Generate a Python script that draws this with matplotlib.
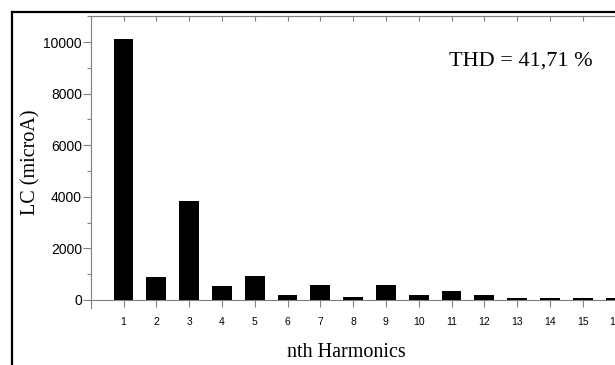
import matplotlib
matplotlib.use("Agg")
import matplotlib.pyplot as plt
from matplotlib.lines import Line2D
from matplotlib.ticker import MultipleLocator

harmonics = list(range(1, 17))
lc_values = [10130, 906, 3855, 560, 918, 195, 570, 130, 582, 181, 336, 181, 78, 78, 90, 65]
thd_text = "THD = 41,71 %"

gray = "#808080"
fig = plt.figure(figsize=(6.15, 3.65), dpi=100)
ax = fig.add_axes([0.1475, 0.157, 0.864, 0.7986])

ax.bar(harmonics, lc_values, width=0.6, color="black", zorder=3)
ax.set_xlim(0, 16.2)
ax.set_ylim(-300, 11000)

# spines
for s in ax.spines.values():
    s.set_color(gray)
    s.set_linewidth(0.8)
ax.spines["bottom"].set_position(("data", 0))

ax.set_xticks(harmonics)
ax.yaxis.set_major_locator(MultipleLocator(2000))
ax.yaxis.set_minor_locator(MultipleLocator(1000))
ax.tick_params(axis="x", direction="out", length=5, width=0.8, color=gray,
               labelsize=7.5, pad=7)
ax.tick_params(axis="y", which="major", direction="out", length=5.8, width=0.8,
               color=gray, labelsize=10, pad=0.5)
ax.tick_params(axis="y", which="minor", direction="out", length=2.9, width=0.8,
               color=gray)
for lab in ax.get_xticklabels() + ax.get_yticklabels():
    lab.set_fontfamily("Liberation Sans")

# top and right ticks pointing inward
top = ax.secondary_xaxis("top")
top.set_xticks(harmonics)
top.tick_params(direction="in", length=3.6, width=0.8, color=gray, labeltop=False)
top.spines["top"].set_color(gray)
right = ax.secondary_yaxis("right")
right.yaxis.set_major_locator(MultipleLocator(2000))
right.yaxis.set_minor_locator(MultipleLocator(1000))
right.tick_params(which="major", direction="in", length=3.6, width=0.8, color=gray,
                  labelright=False)
right.tick_params(which="minor", direction="in", length=1.8, width=0.8, color=gray)

ax.set_xlabel("nth Harmonics", fontfamily="Liberation Serif", fontsize=14.5)
ax.xaxis.set_label_coords(7.8 / 16.2, -0.12)
ax.set_ylabel("LC (microA)", fontfamily="Liberation Serif", fontsize=14.5)
ax.yaxis.set_label_coords(-0.112, 0.5)
ax.yaxis.label.set_va("center")

ax.text(13.1, 9250, thd_text, fontfamily="Liberation Serif", fontsize=16,
        ha="center", va="center")

# outer frame
fig.add_artist(Line2D([12 / 615, 1], [1 - 12 / 365, 1 - 12 / 365], color="black", lw=1.6))
fig.add_artist(Line2D([12 / 615, 12 / 615], [0, 1 - 12 / 365], color="black", lw=1.6))

fig.savefig("out.png", dpi=100)
